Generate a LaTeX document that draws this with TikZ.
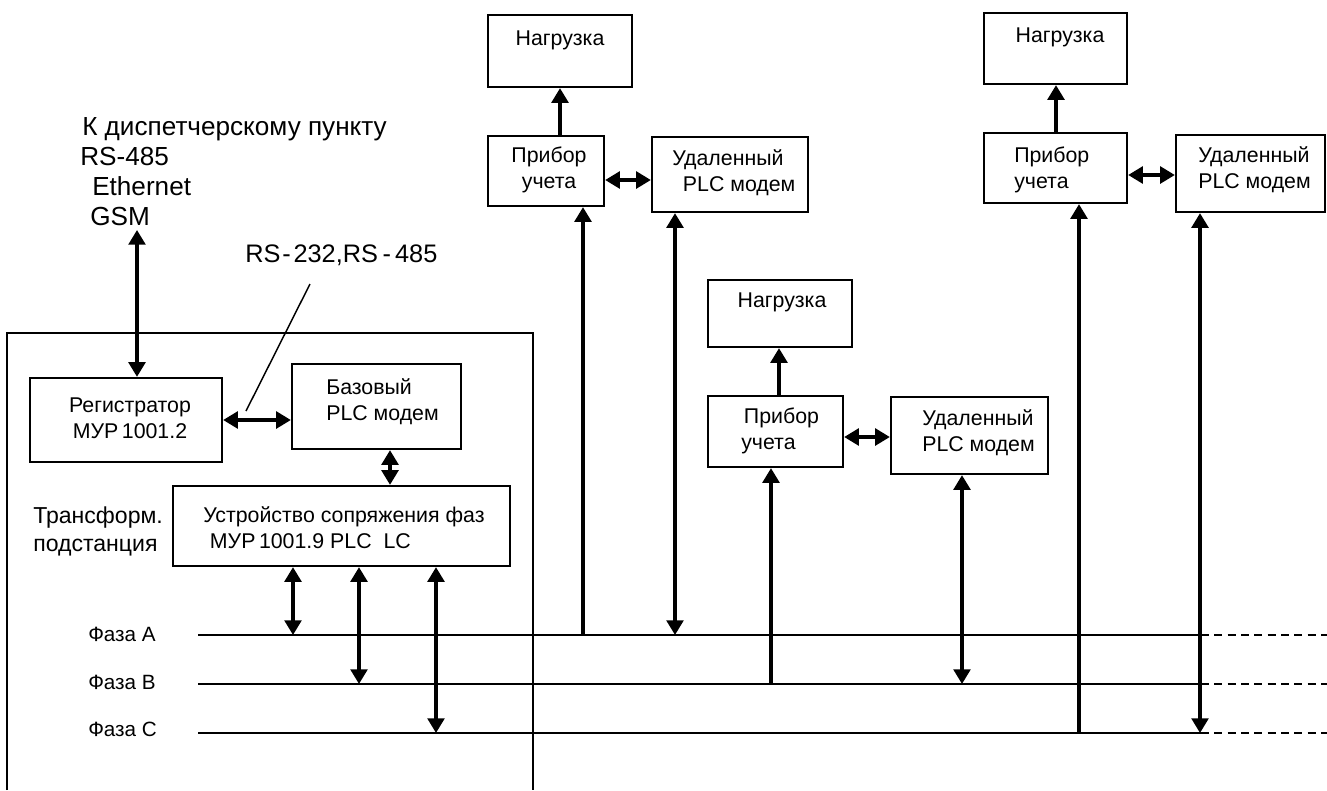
\documentclass[tikz,border=0pt]{standalone}
\usepackage{fontspec}
\setmainfont{Liberation Sans}
\usetikzlibrary{arrows.meta,fit}
\begin{document}
\begin{tikzpicture}[x=0.75pt,y=-0.75pt,
  box/.style={draw, line width=1.7pt, inner sep=0pt},
  txt/.style={font=\fontsize{16}{19.5}\selectfont, inner sep=0pt},
  arr/.style={line width=2.5pt, -{Triangle[width=12.5pt,length=11pt]}},
  darr/.style={line width=2.5pt, {Triangle[width=12.5pt,length=11pt]}-{Triangle[width=12.5pt,length=11pt]}},
  phase/.style={line width=1.9pt},
  phlabel/.style={font=\fontsize{15.5}{18}\selectfont, inner sep=0pt, anchor=west}]
\fill[white] (0,0) rectangle (1327,790);
\useasboundingbox (0,0) rectangle (1327,790);

% phase lines
\coordinate (pA0) at (198,635); \coordinate (pA1) at (1201,635); \coordinate (pA2) at (1327,635);
\coordinate (pB0) at (198,684); \coordinate (pB1) at (1201,684); \coordinate (pB2) at (1327,684);
\coordinate (pC0) at (198,733); \coordinate (pC1) at (1201,733); \coordinate (pC2) at (1327,733);
\draw[phase] (pA0) -- (pA1);
\draw[phase] (pB0) -- (pB1);
\draw[phase] (pC0) -- (pC1);
\draw[phase, dash pattern=on 6pt off 4pt] (pA1) -- (pA2);
\draw[phase, dash pattern=on 6pt off 4pt] (pB1) -- (pB2);
\draw[phase, dash pattern=on 6pt off 4pt] (pC1) -- (pC2);
\node[phlabel] (fa) at (88,634) {Фаза А};
\node[phlabel] (fb) at (88,682) {Фаза В};
\node[phlabel] (fc) at (88,729) {Фаза С};

% substation outline
\draw[line width=1.5pt] (7,790) -- (7,333) -- (533,333) -- (533,790);
\node[font=\fontsize{17.3}{21}\selectfont, align=left, inner sep=0pt, anchor=west] (ts) at (33,531) {Трансформ.\\подстанция};

% top labels
\node[font=\fontsize{19.6}{22.5}\selectfont, align=left, inner sep=0pt, anchor=west] (disp) at (80,172)
  {\hspace*{1.5pt}К диспетчерскому пункту\\RS-485\\\hspace*{9pt}Ethernet\\\hspace*{7.5pt}GSM};
\node[font=\fontsize{19}{22}\selectfont, inner sep=0pt, anchor=west] (rs) at (245,255)
  {RS\kern1.5pt-\kern2pt232,RS\kern3.5pt-\kern3pt485};
\coordinate (rsa) at (310,284);
\coordinate (rsb) at (246,411);
\draw[line width=1.1pt] (rsa) -- (rsb);

% substation boxes
\node[box, fit={(30,378) (222,462)}] (reg) {};
\node[txt, align=center] (regt) at (130,418) {Регистратор\\МУР\,1001.2};
\node[box, fit={(292,364) (461,449)}] (base) {};
\node[txt, align=left, anchor=west] (baset) at (326,402) {Базовый\\PLC модем};
\node[box, fit={(173,486) (510,566)}] (usf) {};
\node[txt, align=left, anchor=west] (usft) at (203,528) {Устройство сопряжения фаз\\\hspace*{5pt}МУР\,1001.9 PLC\ \ LC};

\coordinate (xtop) at (137,230);
\draw[darr] (xtop) -- (reg.north -| xtop);
\draw[darr] (reg.east) -- (reg.east -| base.west);
\coordinate (xbu) at (390,0);
\draw[darr] (base.south -| xbu) -- (usf.north -| xbu);
\coordinate (x1) at (293,0); \coordinate (x2) at (359,0); \coordinate (x3) at (436,0);
\draw[darr] (usf.south -| x1) -- (x1 |- pA0);
\draw[darr] (usf.south -| x2) -- (x2 |- pB0);
\draw[darr] (usf.south -| x3) -- (x3 |- pC0);

% group 1
\node[box, fit={(488,15) (632,87)}] (l1) {};
\node[txt] (l1t) at (560,40) {Нагрузка};
\node[box, fit={(488,136) (604,206)}] (m1) {};
\node[txt, align=center] (m1t) at (549,170) {Прибор\\учета};
\node[box, fit={(652,137) (808,212)}] (r1) {};
\node[txt, align=left, anchor=west] (r1t) at (672,173) {Удаленный\\\hspace*{8pt}PLC модем};
\coordinate (g1a) at (560,0); \coordinate (g1b) at (583,0); \coordinate (g1c) at (675,0); \coordinate (g1y) at (0,180);
\draw[arr] (m1.north -| g1a) -- (l1.south -| g1a);
\draw[darr] (m1.east |- g1y) -- (r1.west |- g1y);
\draw[arr] (g1b |- pA0) -- (m1.south -| g1b);
\draw[darr] (r1.south -| g1c) -- (g1c |- pA0);

% group 2
\node[box, fit={(708,280) (852,347)}] (l2) {};
\node[txt] (l2t) at (782,302) {Нагрузка};
\node[box, fit={(708,396) (843,467)}] (m2) {};
\node[txt, align=left, anchor=west] (m2t) at (741,431) {\hspace*{2pt}Прибор\\учета};
\node[box, fit={(891,397) (1048,474)}] (r2) {};
\node[txt, align=left, anchor=west] (r2t) at (922,433) {Удаленный\\PLC модем};
\coordinate (g2a) at (779,0); \coordinate (g2b) at (771,0); \coordinate (g2c) at (962,0); \coordinate (g2y) at (0,437);
\draw[arr] (m2.north -| g2a) -- (l2.south -| g2a);
\draw[darr] (m2.east |- g2y) -- (r2.west |- g2y);
\draw[arr] (g2b |- pB0) -- (m2.south -| g2b);
\draw[darr] (r2.south -| g2c) -- (g2c |- pB0);

% group 3
\node[box, fit={(984,13) (1127,84)}] (l3) {};
\node[txt] (l3t) at (1060,37) {Нагрузка};
\node[box, fit={(984,133) (1127,203)}] (m3) {};
\node[txt, align=left, anchor=west] (m3t) at (1014,170) {Прибор\\учета};
\node[box, fit={(1176,135) (1325,212)}] (r3) {};
\node[txt, align=left, anchor=west] (r3t) at (1198,170) {Удаленный\\PLC модем};
\coordinate (g3a) at (1056,0); \coordinate (g3b) at (1079,0); \coordinate (g3c) at (1200,0); \coordinate (g3y) at (0,175);
\draw[arr] (m3.north -| g3a) -- (l3.south -| g3a);
\draw[darr] (m3.east |- g3y) -- (r3.west |- g3y);
\draw[arr] (g3b |- pC0) -- (m3.south -| g3b);
\draw[darr] (r3.south -| g3c) -- (g3c |- pC0);
\end{tikzpicture}
\end{document}
